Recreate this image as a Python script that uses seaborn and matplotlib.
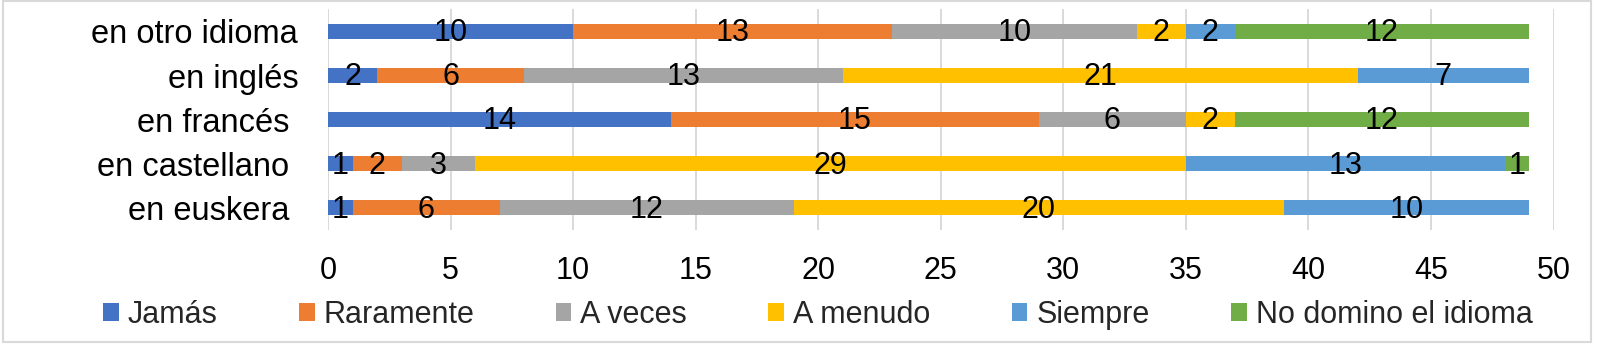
import numpy as np
import pandas as pd
import seaborn as sns
import matplotlib.pyplot as plt
from matplotlib.patches import Patch, Rectangle

# Categories, top to bottom
categories = ["en otro idioma", "en inglés", "en francés ", "en castellano ", "en euskera "]

# Response series (counts per category)
series_names = ["Jamás", "Raramente", "A veces", "A menudo", "Siempre", "No domino el idioma"]
jamas = [10, 2, 14, 1, 1]
raramente = [13, 6, 15, 2, 6]
a_veces = [10, 13, 6, 3, 12]
a_menudo = [2, 21, 2, 29, 20]
siempre = [2, 7, 0, 13, 10]
no_domino = [12, 0, 12, 1, 0]

colors = ["#4472C4", "#ED7D31", "#A5A5A5", "#FFC000", "#5B9BD5", "#70AD47"]
x_ticks = [0, 5, 10, 15, 20, 25, 30, 35, 40, 45, 50]

sns.set_theme(style="white")
plt.rcParams["font.family"] = ["Liberation Sans", "DejaVu Sans"]

values = np.array([jamas, raramente, a_veces, a_menudo, siempre, no_domino], dtype=float)
cum = np.cumsum(values, axis=0)
lefts = cum - values

fig = plt.figure(figsize=(16, 3.49), dpi=100)
ax = fig.add_axes([0.205, 0.341, 0.766, 0.632])

# Stacked bars: draw cumulative totals from the outermost series inward
for i in range(len(series_names) - 1, -1, -1):
    df = pd.DataFrame({"categoria": categories, "total": cum[i]})
    sns.barplot(data=df, y="categoria", x="total", order=categories, color=colors[i],
                saturation=1, width=0.34, linewidth=0, orient="h", ax=ax, zorder=2)

# Segment value labels
for i in range(len(series_names)):
    for j in range(len(categories)):
        v = values[i, j]
        if v > 0:
            ax.text(lefts[i, j] + v / 2, j + 0.04, f"{int(v)}", ha="center", va="center",
                    fontsize=22, color="black", zorder=3)

ax.set_xlim(0, 50)
ax.set_ylim(4.5, -0.5)
ax.set_xticks(x_ticks)
ax.set_xticklabels([str(t) for t in x_ticks])
ax.grid(axis="x", color="#D9D9D9", linewidth=1.4, zorder=0)
ax.grid(axis="y", visible=False)
ax.set_axisbelow(True)
for s in ax.spines.values():
    s.set_visible(False)
ax.set_xlabel("")
ax.set_ylabel("")
ax.tick_params(axis="x", length=0, pad=18.7, labelsize=22, colors="black")
ax.tick_params(axis="y", length=0, pad=21.5, labelsize=23.5, colors="black")

handles = [Patch(facecolor=c, edgecolor="none", label=n) for c, n in zip(colors, series_names)]
fig.legend(handles=handles, loc="center", bbox_to_anchor=(0.511, 0.097), ncol=6,
           frameon=False, fontsize=22, handlelength=0.52, handleheight=0.52,
           handletextpad=0.29, columnspacing=2.66, borderpad=0, borderaxespad=0)

# Outer chart border
fig.patches.append(Rectangle((3 / 1600, 1 - 342 / 349), 1588 / 1600, 341 / 349,
                             transform=fig.transFigure, fill=False,
                             edgecolor="#D9D9D9", linewidth=1.5))

fig.savefig("out.png", dpi=100, facecolor="white")
